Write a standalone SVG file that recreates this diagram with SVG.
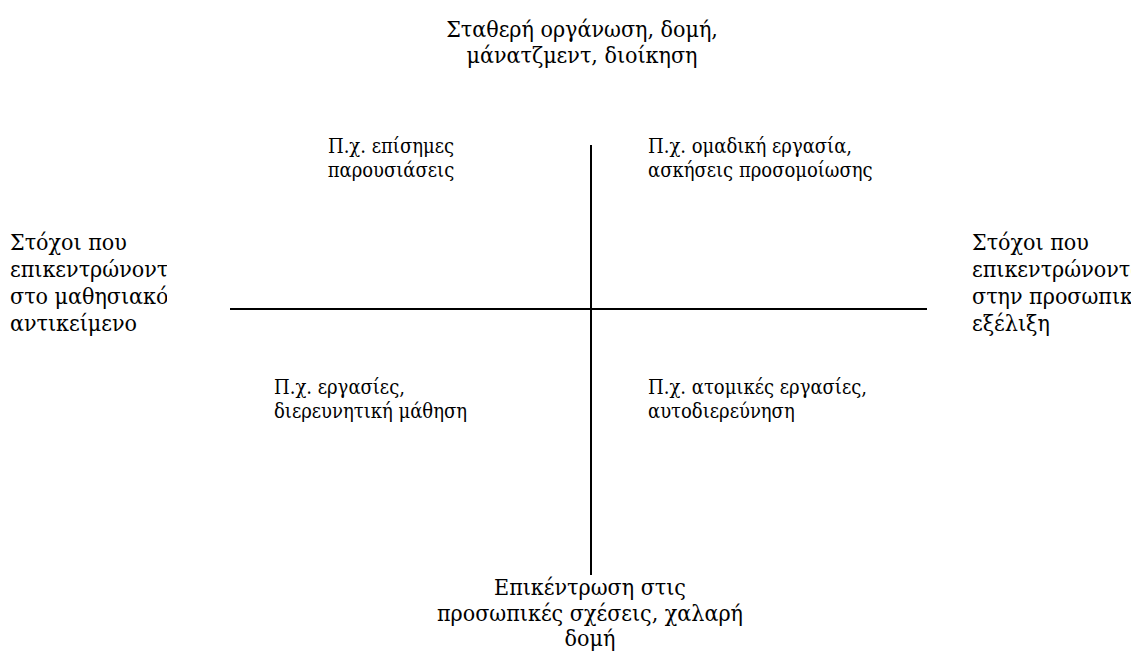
<svg xmlns="http://www.w3.org/2000/svg" width="1131" height="651" viewBox="0 0 1131 651">
<defs>
<style>
text{font-family:"DejaVu Serif Condensed","DejaVu Serif",serif;fill:#000}
.big{font-size:23px}
.q{font-size:20px}
.ax{stroke:#000;stroke-width:2;fill:none}
</style>
<clipPath id="clipL"><rect x="0" y="200" width="167" height="160"/></clipPath>
</defs>
<rect width="1131" height="651" fill="#fff"/>
<g id="connectors">
<line class="ax" x1="230" y1="309" x2="927" y2="309"/>
<line class="ax" x1="591" y1="145" x2="591" y2="575"/>
</g>
<g id="top">
<text class="big" text-anchor="middle"><tspan x="582" y="37">Σταθερή οργάνωση, δομή,</tspan><tspan x="582" y="63">μάνατζμεντ, διοίκηση</tspan></text>
</g>
<g id="left" clip-path="url(#clipL)">
<text class="big"><tspan x="10" y="250">Στόχοι που</tspan><tspan x="10" y="277">επικεντρώνονται</tspan><tspan x="10" y="304">στο μαθησιακό</tspan><tspan x="10" y="331">αντικείμενο</tspan></text>
</g>
<g id="right">
<text class="big"><tspan x="972" y="250">Στόχοι που</tspan><tspan x="972" y="277">επικεντρώνονται</tspan><tspan x="972" y="304">στην προσωπική</tspan><tspan x="972" y="331">εξέλιξη</tspan></text>
</g>
<g id="q1">
<text class="q" text-anchor="middle"><tspan x="391" y="153">Π.χ. επίσημες</tspan><tspan x="391" y="177">παρουσιάσεις</tspan></text>
</g>
<g id="q2">
<text class="q"><tspan x="648" y="153">Π.χ. ομαδική εργασία,</tspan><tspan x="648" y="177">ασκήσεις προσομοίωσης</tspan></text>
</g>
<g id="q3">
<text class="q"><tspan x="274" y="394">Π.χ. εργασίες,</tspan><tspan x="274" y="418">διερευνητική μάθηση</tspan></text>
</g>
<g id="q4">
<text class="q"><tspan x="648" y="394">Π.χ. ατομικές εργασίες,</tspan><tspan x="648" y="418">αυτοδιερεύνηση</tspan></text>
</g>
<g id="bottom">
<text class="big" text-anchor="middle"><tspan x="590" y="595">Επικέντρωση στις</tspan><tspan x="590" y="621">προσωπικές σχέσεις, χαλαρή</tspan><tspan x="590" y="646">δομή</tspan></text>
</g>
</svg>
